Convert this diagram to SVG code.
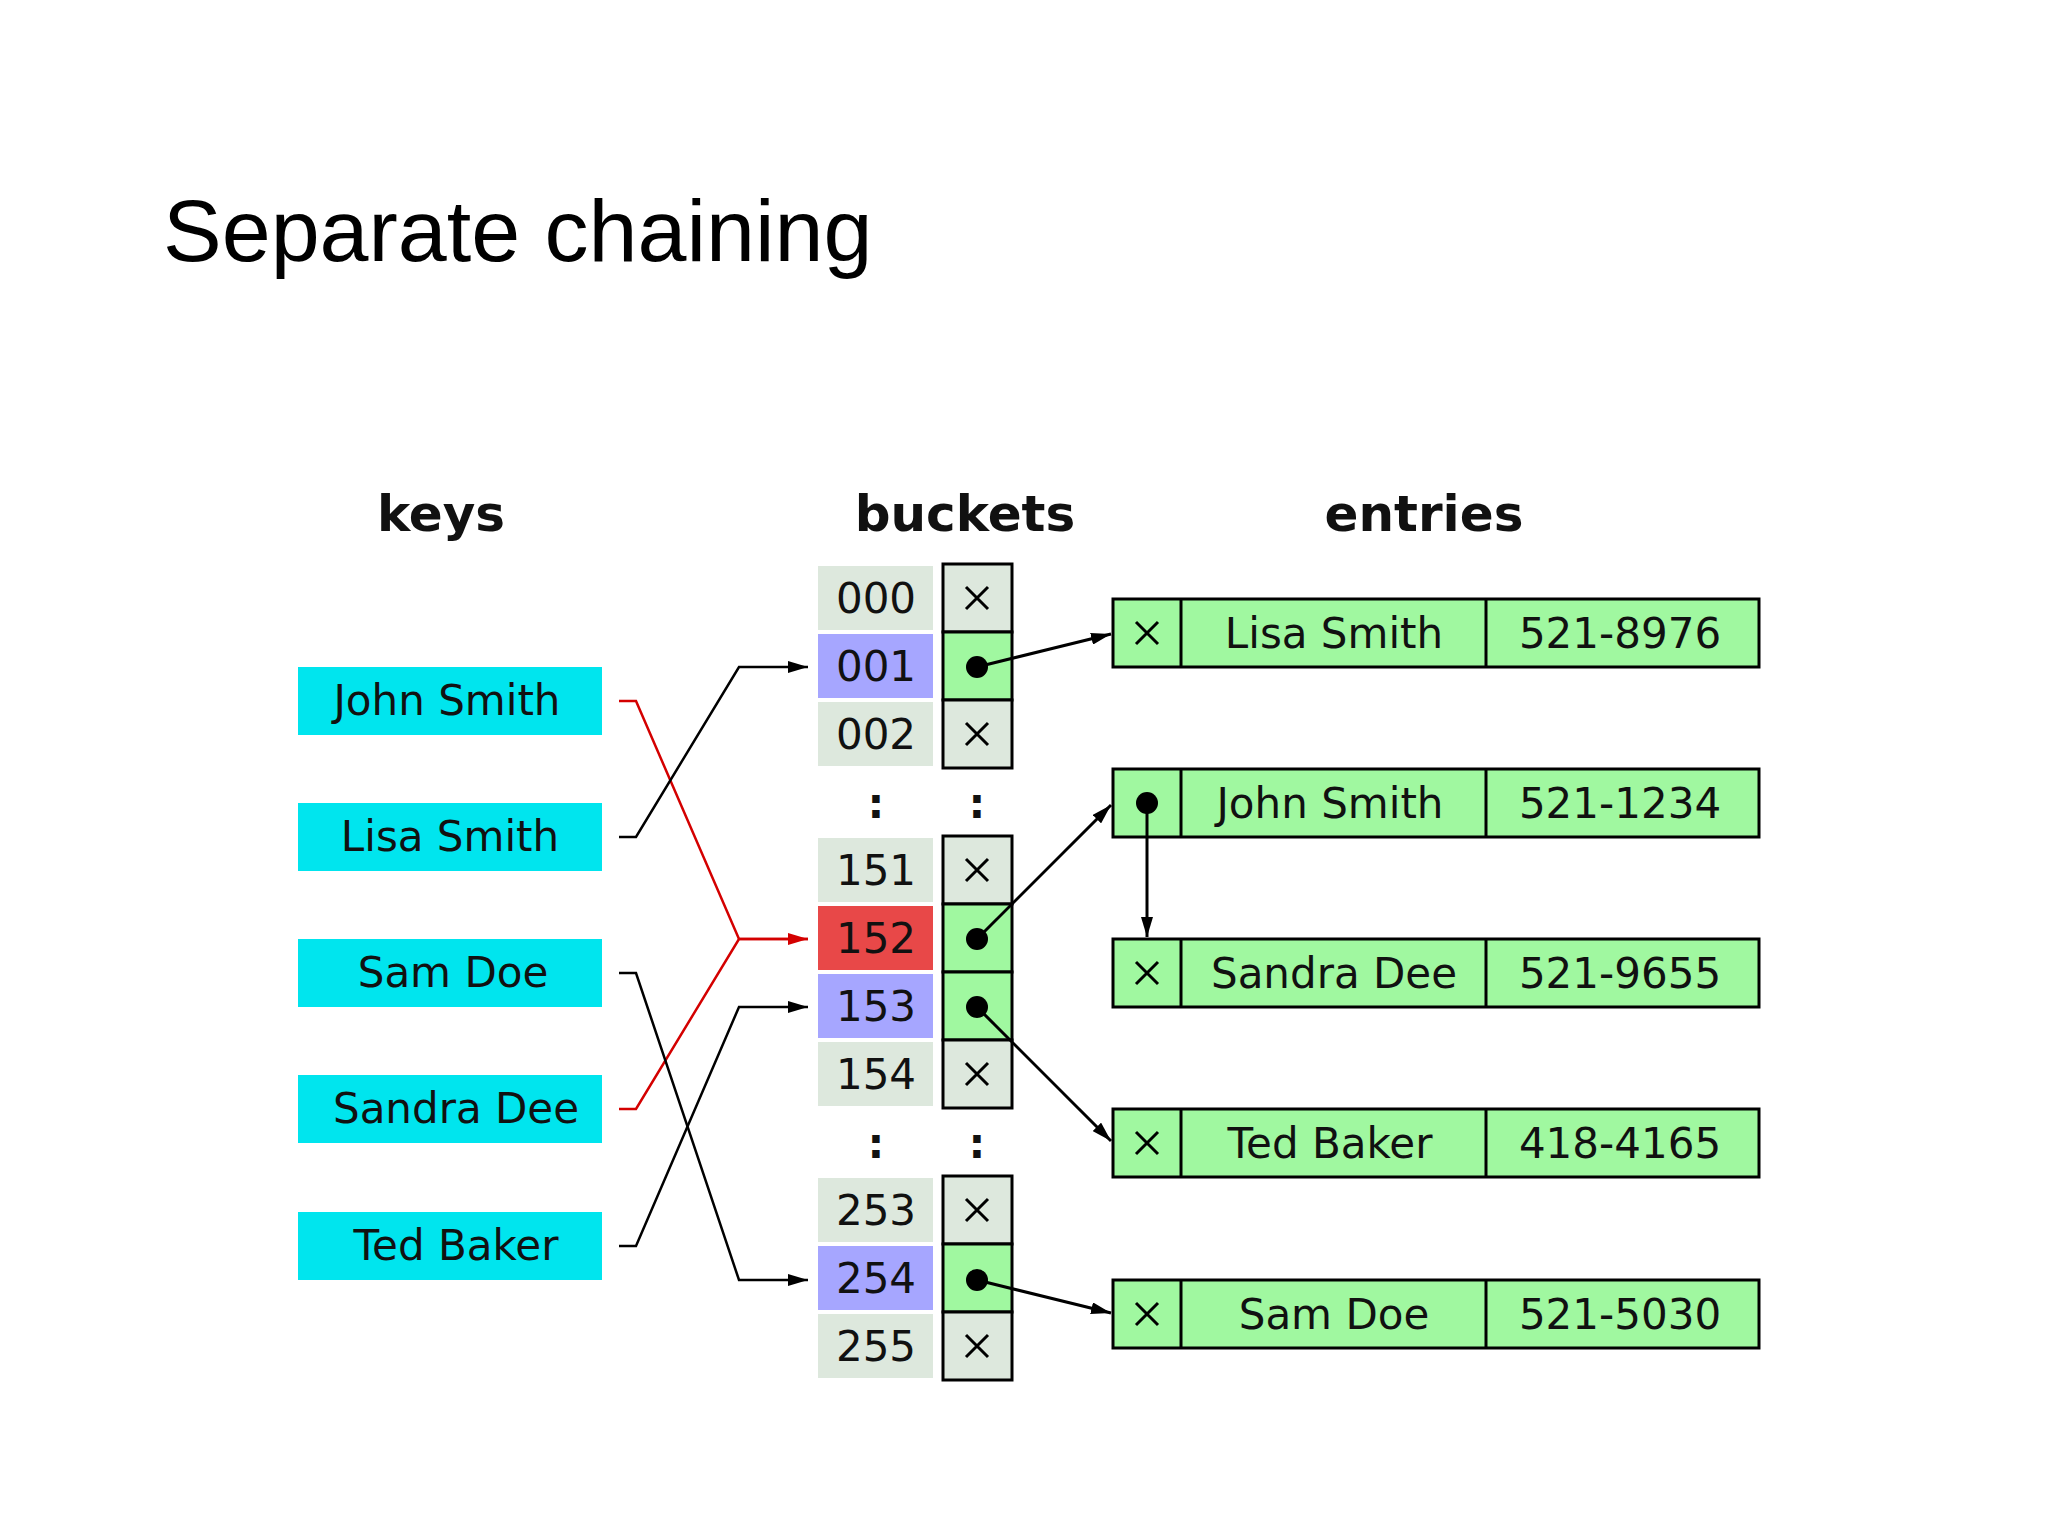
<svg xmlns="http://www.w3.org/2000/svg" width="2048" height="1536" viewBox="0 0 2048 1536">
<defs>
<marker id="ab" viewBox="0 0 20 12" refX="20" refY="6" markerWidth="20" markerHeight="12" markerUnits="userSpaceOnUse" orient="auto"><path d="M0,0 L20,6 L0,12 z" fill="#000"/></marker>
<marker id="ar" viewBox="0 0 20 12" refX="20" refY="6" markerWidth="20" markerHeight="12" markerUnits="userSpaceOnUse" orient="auto"><path d="M0,0 L20,6 L0,12 z" fill="#d40000"/></marker>
</defs>
<style>
text{font-family:"DejaVu Sans",sans-serif;font-size:42px;text-anchor:middle;fill:#111}
.t{font-family:"Liberation Sans",sans-serif;font-size:88px;text-anchor:start;fill:#000}
.h{font-weight:bold;font-size:50px}
.key{fill:#00e5ee}
.lb{fill:#dde8dd}
.pc{stroke:#000;stroke-width:3}
.e{fill:#a0f8a0;stroke:#000;stroke-width:3}
.x{stroke:#000;stroke-width:3}
.k{fill:none;stroke:#000;stroke-width:2.5}
.r{fill:none;stroke:#d40000;stroke-width:2.5}
.p{fill:none;stroke:#000;stroke-width:3}
</style>
<rect width="2048" height="1536" fill="#fff"/>
<text class="t" x="163" y="261">Separate chaining</text>
<text class="h" x="441" y="531">keys</text>
<text class="h" x="965" y="531">buckets</text>
<text class="h" x="1424" y="531">entries</text>
<g id="keys">
<g id="k1"><rect class="key" x="298" y="667" width="304" height="68"/><text x="447" y="715">John Smith</text></g>
<g id="k2"><rect class="key" x="298" y="803" width="304" height="68"/><text x="450" y="851">Lisa Smith</text></g>
<g id="k3"><rect class="key" x="298" y="939" width="304" height="68"/><text x="453" y="987">Sam Doe</text></g>
<g id="k4"><rect class="key" x="298" y="1075" width="304" height="68"/><text x="456" y="1123">Sandra Dee</text></g>
<g id="k5"><rect class="key" x="298" y="1212" width="304" height="68"/><text x="456" y="1260">Ted Baker</text></g>
</g>
<g id="buckets">
<g id="b000"><rect class="lb" x="818" y="566" width="115" height="64"/><text x="876" y="613">000</text><rect class="pc" x="943" y="564" width="69" height="68" fill="#dde8dd"/></g>
<g id="b001"><rect x="818" y="634" width="115" height="64" fill="#a6a6ff"/><text x="876" y="681">001</text><rect class="pc" x="943" y="632" width="69" height="68" fill="#a0f8a0"/></g>
<g id="b002"><rect class="lb" x="818" y="702" width="115" height="64"/><text x="876" y="749">002</text><rect class="pc" x="943" y="700" width="69" height="68" fill="#dde8dd"/></g>
<g id="b151"><rect class="lb" x="818" y="838" width="115" height="64"/><text x="876" y="885">151</text><rect class="pc" x="943" y="836" width="69" height="68" fill="#dde8dd"/></g>
<g id="b152"><rect x="818" y="906" width="115" height="64" fill="#e84848"/><text x="876" y="953">152</text><rect class="pc" x="943" y="904" width="69" height="68" fill="#a0f8a0"/></g>
<g id="b153"><rect x="818" y="974" width="115" height="64" fill="#a6a6ff"/><text x="876" y="1021">153</text><rect class="pc" x="943" y="972" width="69" height="68" fill="#a0f8a0"/></g>
<g id="b154"><rect class="lb" x="818" y="1042" width="115" height="64"/><text x="876" y="1089">154</text><rect class="pc" x="943" y="1040" width="69" height="68" fill="#dde8dd"/></g>
<g id="b253"><rect class="lb" x="818" y="1178" width="115" height="64"/><text x="876" y="1225">253</text><rect class="pc" x="943" y="1176" width="69" height="68" fill="#dde8dd"/></g>
<g id="b254"><rect x="818" y="1246" width="115" height="64" fill="#a6a6ff"/><text x="876" y="1293">254</text><rect class="pc" x="943" y="1244" width="69" height="68" fill="#a0f8a0"/></g>
<g id="b255"><rect class="lb" x="818" y="1314" width="115" height="64"/><text x="876" y="1361">255</text><rect class="pc" x="943" y="1312" width="69" height="68" fill="#dde8dd"/></g>
<text x="876" y="818" font-weight="bold">:</text><text x="977" y="818" font-weight="bold">:</text>
<text x="876" y="1158" font-weight="bold">:</text><text x="977" y="1158" font-weight="bold">:</text>
<g class="x">
<path d="M966,587 l22,22 M988,587 l-22,22"/>
<path d="M966,723 l22,22 M988,723 l-22,22"/>
<path d="M966,859 l22,22 M988,859 l-22,22"/>
<path d="M966,1063 l22,22 M988,1063 l-22,22"/>
<path d="M966,1199 l22,22 M988,1199 l-22,22"/>
<path d="M966,1335 l22,22 M988,1335 l-22,22"/>
</g>
<circle cx="977" cy="667" r="11"/><circle cx="977" cy="939" r="11"/><circle cx="977" cy="1007" r="11"/><circle cx="977" cy="1280" r="11"/>
</g>
<g id="entries">
<g id="e1"><rect class="e" x="1113" y="599" width="646" height="68"/><path class="x" d="M1181,599 v68 M1486,599 v68 M1136,622 l22,22 M1158,622 l-22,22"/><text x="1334" y="648">Lisa Smith</text><text x="1620" y="648">521-8976</text></g>
<g id="e2"><rect class="e" x="1113" y="769" width="646" height="68"/><path class="x" d="M1181,769 v68 M1486,769 v68"/><circle cx="1147" cy="803" r="11"/><text x="1330" y="818">John Smith</text><text x="1620" y="818">521-1234</text></g>
<g id="e3"><rect class="e" x="1113" y="939" width="646" height="68"/><path class="x" d="M1181,939 v68 M1486,939 v68 M1136,962 l22,22 M1158,962 l-22,22"/><text x="1334" y="988">Sandra Dee</text><text x="1620" y="988">521-9655</text></g>
<g id="e4"><rect class="e" x="1113" y="1109" width="646" height="68"/><path class="x" d="M1181,1109 v68 M1486,1109 v68 M1136,1132 l22,22 M1158,1132 l-22,22"/><text x="1330" y="1158">Ted Baker</text><text x="1620" y="1158">418-4165</text></g>
<g id="e5"><rect class="e" x="1113" y="1280" width="646" height="68"/><path class="x" d="M1181,1280 v68 M1486,1280 v68 M1136,1303 l22,22 M1158,1303 l-22,22"/><text x="1334" y="1329">Sam Doe</text><text x="1620" y="1329">521-5030</text></g>
</g>
<g id="connectors">
<path class="r" d="M619,701 H636 L739,939 H808" marker-end="url(#ar)"/>
<path class="r" d="M619,1109 H636 L739,939 H808"/>
<path class="k" d="M619,837 H636 L739,667 H808" marker-end="url(#ab)"/>
<path class="k" d="M619,973 H636 L739,1280 H808" marker-end="url(#ab)"/>
<path class="k" d="M619,1246 H636 L739,1007 H808" marker-end="url(#ab)"/>
<path class="p" d="M977,667 L1111,634" marker-end="url(#ab)"/>
<path class="p" d="M977,939 L1111,805" marker-end="url(#ab)"/>
<path class="p" d="M977,1007 L1111,1141" marker-end="url(#ab)"/>
<path class="p" d="M977,1280 L1111,1313" marker-end="url(#ab)"/>
<path class="p" d="M1147,803 V937" marker-end="url(#ab)"/>
</g>
</svg>
